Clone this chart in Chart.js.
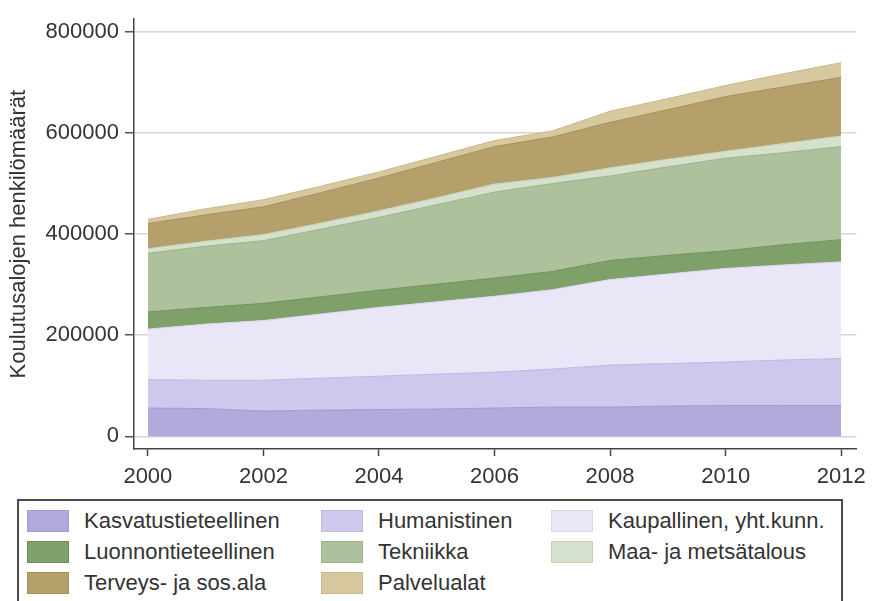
<!DOCTYPE html>
<html>
<head>
<meta charset="utf-8">
<script src="https://cdn.jsdelivr.net/npm/chart.js@4"></script>
<style>
  html, body { margin: 0; padding: 0; background: #fff; width: 874px; height: 601px; overflow: hidden; }
  #wrap { position: absolute; left: 0; top: 0; width: 874px; height: 499px; }
  #legend {
    position: absolute; left: 17px; top: 499px; width: 822px; height: 130px;
    border: 2px solid #4a4a4a; box-sizing: content-box;
    font-family: "Liberation Sans", Arial, sans-serif; font-size: 22px; color: #333;
  }
  .item { position: absolute; height: 22px; display: flex; align-items: center; white-space: nowrap; }
  .sw { width: 42px; height: 22px; margin-right: 15px; box-sizing: border-box; }
</style>
</head>
<body>
<div id="wrap"><canvas id="c" width="874" height="499"></canvas></div>
<div id="legend"></div>
<script>
// ---- data ----
const years = [2000, 2001, 2002, 2003, 2004, 2005, 2006, 2007, 2008, 2009, 2010, 2011, 2012];
const kasvatustieteellinen = [56000, 55000, 50000, 52000, 53000, 54000, 56000, 58000, 58000, 60000, 61000, 61000, 61000];
const humanistinen       = [56000, 56000, 61000, 63000, 66000, 69000, 71000, 75000, 83000, 84000, 86000, 90000, 93000];
const kaupallinen        = [100000, 111000, 118000, 127000, 136000, 143000, 150000, 157000, 169000, 177000, 185000, 188000, 191000];
const luonnontieteellinen = [34000, 33000, 34000, 34000, 34000, 35000, 36000, 36000, 38000, 37000, 35000, 40000, 44000];
const tekniikka          = [116000, 121000, 124000, 134000, 144000, 157000, 170000, 174000, 167000, 175000, 183000, 182000, 184000];
const maaMetsatalous     = [9000, 10000, 12000, 12000, 13000, 14000, 16000, 12000, 16000, 15000, 14000, 18000, 21000];
const terveysSos         = [50000, 52000, 55000, 60000, 65000, 70000, 74000, 80000, 90000, 98000, 108000, 112000, 116000];
const palvelualat        = [8000, 12000, 14000, 13000, 12000, 12000, 12000, 12000, 22000, 22000, 22000, 26000, 29000];
const seriesNames = ["Kasvatustieteellinen", "Humanistinen", "Kaupallinen, yht.kunn.", "Luonnontieteellinen",
                     "Tekniikka", "Maa- ja metsätalous", "Terveys- ja sos.ala", "Palvelualat"];
const seriesValues = [kasvatustieteellinen, humanistinen, kaupallinen, luonnontieteellinen,
                      tekniikka, maaMetsatalous, terveysSos, palvelualat];
const yTicks = [0, 200000, 400000, 600000, 800000];
const xTicks = [2000, 2002, 2004, 2006, 2008, 2010, 2012];
const yTitle = "Koulutusalojen henkilömäärät";

// ---- styles ----
const fills   = ["#b2aadd", "#cdc9ec", "#e8e6f7", "#80a06a", "#adc19d", "#d5e0cd", "#b5a06c", "#d7c89e"];
const borders = ["#a39bd3", "#bdb8e4", "#d9d6f0", "#6f9159", "#9bb28a", "#c3d2b9", "#a38e5b", "#c8b88b"];
const FONT = "'Liberation Sans', Arial, sans-serif";

const datasets = seriesValues.map((vals, i) => ({
  label: seriesNames[i],
  data: vals.map((v, j) => ({ x: years[j], y: v })),
  backgroundColor: fills[i],
  borderColor: borders[i],
  borderWidth: 1,
  pointRadius: 0,
  tension: 0,
  fill: i === 0 ? 'origin' : '-1'
}));

const chart = new Chart(document.getElementById('c'), {
  type: 'line',
  data: { datasets },
  options: {
    responsive: false,
    animation: false,
    layout: { padding: { top: 9, right: 16, left: 0, bottom: 0 } },
    plugins: { legend: { display: false }, tooltip: { enabled: false } },
    scales: {
      x: {
        type: 'linear',
        min: 1999.76, max: 2012.26,
        afterBuildTicks: s => { s.ticks = xTicks.map(v => ({ value: v })); },
        afterFit: s => { s.height = 50; },
        grid: { drawOnChartArea: false, drawTicks: true, tickLength: 7, tickColor: '#444', tickWidth: 1.5 },
        border: { color: '#444', width: 1.5 },
        ticks: { color: '#333', font: { family: FONT, size: 22 }, padding: 8, maxRotation: 0,
                 callback: v => String(v) }
      },
      y: {
        stacked: true,
        min: -25000, max: 825000,
        afterBuildTicks: s => { s.ticks = yTicks.map(v => ({ value: v })); },
        afterFit: s => { s.width = 134; },
        grid: { color: '#d6d6d6', lineWidth: 1.5, drawTicks: true, tickLength: 9, tickColor: '#555', tickWidth: 1.5 },
        border: { color: '#444', width: 1.5 },
        ticks: { color: '#333', font: { family: FONT, size: 22 }, padding: 6, callback: v => String(v) },
        title: { display: true, text: yTitle, color: '#333', font: { family: FONT, size: 22 }, padding: { top: 6, bottom: 0 } }
      }
    }
  }
});

// ---- HTML legend built from the datasets ----
const legend = document.getElementById('legend');
const colX = [8, 302, 532];
chart.data.datasets.forEach((ds, i) => {
  const col = i % 3, row = Math.floor(i / 3);
  const it = document.createElement('div');
  it.className = 'item';
  it.style.left = colX[col] + 'px';
  it.style.top = (9 + row * 31) + 'px';
  const sw = document.createElement('span');
  sw.className = 'sw';
  sw.style.background = ds.backgroundColor;
  sw.style.border = '1px solid ' + ds.borderColor;
  const tx = document.createElement('span');
  tx.textContent = ds.label;
  it.appendChild(sw); it.appendChild(tx);
  legend.appendChild(it);
});
</script>
</body>
</html>
